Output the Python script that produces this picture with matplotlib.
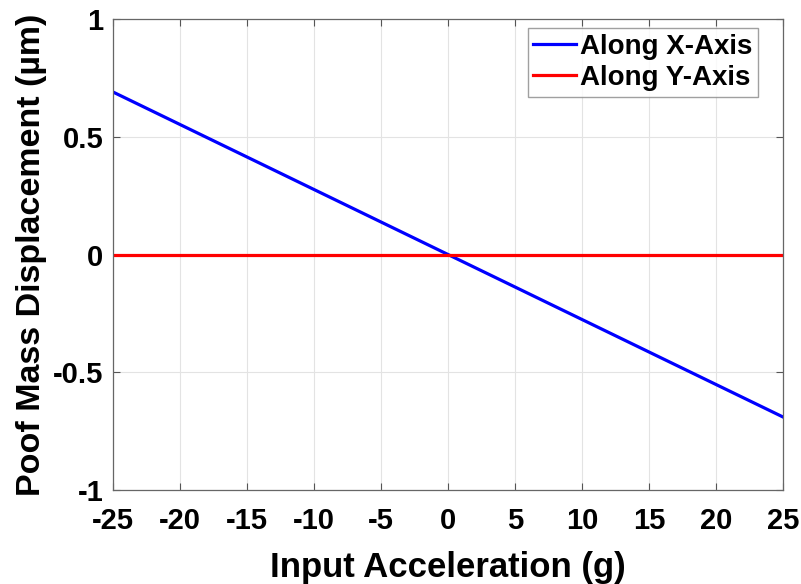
import numpy as np
import matplotlib
matplotlib.use("Agg")
import matplotlib.pyplot as plt

plt.rcParams['font.family'] = ['Liberation Sans', 'DejaVu Sans']
plt.rcParams['font.weight'] = 'bold'
plt.rcParams['axes.unicode_minus'] = False

accel = [-25, 25]
disp_x = [0.69, -0.69]
disp_y = [0.0, 0.0]
xticks = [-25, -20, -15, -10, -5, 0, 5, 10, 15, 20, 25]
yticks = [-1, -0.5, 0, 0.5, 1]
yticklabels = ["-1", "-0.5", "0", "0.5", "1"]

fig = plt.figure(figsize=(8.01, 5.84), dpi=100)
ax = fig.add_axes([113/801, 1 - 490/584, (783 - 113)/801, (490 - 19)/584])

ax.plot(accel, disp_x, color='#0000ff', lw=2.3, label='Along X-Axis')
ax.plot(accel, disp_y, color='#ff0000', lw=2.3, label='Along Y-Axis')

ax.set_xlim(-25, 25)
ax.set_ylim(-1, 1)
ax.set_xticks(xticks)
ax.set_yticks(yticks)
ax.set_yticklabels(yticklabels)
ax.grid(True, color='#e3e3e3', lw=0.8)
ax.set_axisbelow(True)
ax.tick_params(direction='in', top=True, right=True, length=5, width=0.8,
               color='#555555', labelsize=21)
ax.tick_params(axis='x', pad=12)
ax.tick_params(axis='y', pad=7)
for s in ax.spines.values():
    s.set_color('#666666')
    s.set_linewidth(0.9)

ax.set_xlabel('Input Acceleration (g)', fontsize=25, fontweight='bold', labelpad=12)
ax.set_ylabel('Poof Mass Displacement (\u00b5m)', fontsize=24.5, fontweight='bold', labelpad=4)

leg = ax.legend(loc='upper right', bbox_to_anchor=(0.963, 0.981), fontsize=20,
                frameon=True, fancybox=False, borderaxespad=0,
                handlelength=1.55, handletextpad=0.15, borderpad=0.2,
                labelspacing=0.2)
leg.get_frame().set_edgecolor('#888888')
leg.get_frame().set_linewidth(1.0)

fig.savefig('out.png', dpi=100)
